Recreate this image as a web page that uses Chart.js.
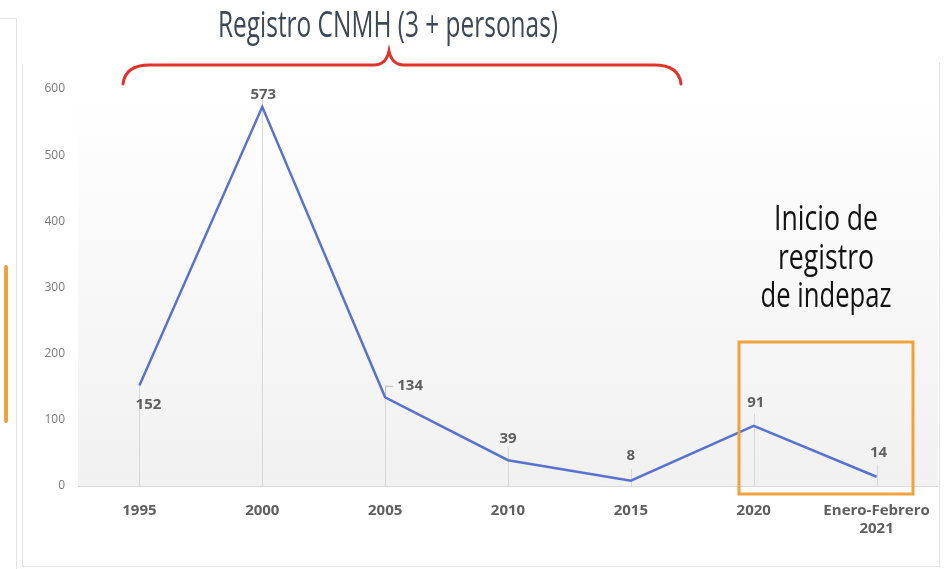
<!DOCTYPE html>
<html>
<head>
<meta charset="utf-8">
<script src="https://cdn.jsdelivr.net/npm/chart.js@4.4.1/dist/chart.umd.min.js"></script>
<style>
  html, body { margin: 0; padding: 0; background: #fff; }
  #wrap { width: 949px; height: 569px; position: relative; }
</style>
</head>
<body>
<div id="wrap"><canvas id="chart"></canvas></div>
<script>
const categories = ['1995', '2000', '2005', '2010', '2015', '2020', ['Enero-Febrero', '2021']];
const values = [152, 573, 134, 39, 8, 91, 14];
const yTicks = [0, 100, 200, 300, 400, 500, 600];

// where each value label sits relative to its point (dx, dy)
const labelOffsets = [[9, 19], [1, -12], [25, -12], [0, -21], [0, -25], [2, -23], [2, -24]];

// draw text squeezed horizontally to a given width (stands in for a condensed face)
function narrowText(ctx, text, cx, baseline, width) {
  const w = ctx.measureText(text).width;
  ctx.save();
  ctx.translate(cx, baseline);
  ctx.scale(width / w, 1);
  ctx.textAlign = 'center';
  ctx.textBaseline = 'alphabetic';
  ctx.fillText(text, 0, 0);
  ctx.restore();
}

const decorations = {
  id: 'decorations',
  beforeDraw(chart) {
    const { ctx, chartArea: a } = chart;
    ctx.save();
    // outer frame
    ctx.strokeStyle = '#e3e3e3';
    ctx.lineWidth = 1;
    ctx.beginPath();
    ctx.moveTo(22.5, 65); ctx.lineTo(22.5, 566.5); ctx.lineTo(939.5, 566.5); ctx.lineTo(939.5, 62);
    ctx.moveTo(0, 18.5); ctx.lineTo(16.5, 18.5); ctx.lineTo(16.5, 569);
    ctx.stroke();
    // plot background
    const g = ctx.createLinearGradient(0, a.top, 0, a.bottom);
    g.addColorStop(0, '#ffffff');
    g.addColorStop(1, '#f1f1f1');
    ctx.fillStyle = g;
    ctx.fillRect(a.left, a.top, a.right - a.left, a.bottom - a.top);
    // drop lines
    const meta = chart.getDatasetMeta(0);
    ctx.strokeStyle = '#d8d8d8';
    meta.data.forEach((p, i) => {
      const off = labelOffsets[i];
      const top = off[1] < 0 ? p.y - 12 : p.y;
      ctx.beginPath();
      ctx.moveTo(Math.round(p.x) + 0.5, top);
      ctx.lineTo(Math.round(p.x) + 0.5, a.bottom);
      ctx.stroke();
    });
    // axis line
    ctx.strokeStyle = '#d9d9d9';
    ctx.beginPath();
    ctx.moveTo(a.left, a.bottom + 0.5);
    ctx.lineTo(a.right, a.bottom + 0.5);
    ctx.stroke();
    // left orange bar
    ctx.strokeStyle = '#f0a23c';
    ctx.lineWidth = 4;
    ctx.lineCap = 'round';
    ctx.beginPath();
    ctx.moveTo(6, 267); ctx.lineTo(6, 421);
    ctx.stroke();
    ctx.restore();
  },
  afterDatasetsDraw(chart) {
    const { ctx } = chart;
    const meta = chart.getDatasetMeta(0);
    ctx.save();
    // value labels
    ctx.font = 'bold 15px "Open Sans", "DejaVu Sans", sans-serif';
    ctx.fillStyle = '#5f5f5f';
    ctx.textAlign = 'center';
    ctx.textBaseline = 'middle';
    meta.data.forEach((p, i) => {
      const [dx, dy] = labelOffsets[i];
      ctx.fillText(String(values[i]), p.x + dx, p.y + dy);
    });
    // small leader for 134
    const p2 = meta.data[2];
    ctx.strokeStyle = '#bdbdbd';
    ctx.lineWidth = 1;
    ctx.beginPath();
    ctx.moveTo(p2.x + 0.5, p2.y - 3);
    ctx.lineTo(p2.x + 0.5, p2.y - 11);
    ctx.lineTo(p2.x + 8, p2.y - 11);
    ctx.stroke();

    // title
    ctx.fillStyle = '#3d4756';
    ctx.font = '36px "Open Sans", "DejaVu Sans", sans-serif';
    narrowText(ctx, 'Registro CNMH (3 + personas)', 388, 37, 340);

    // red brace
    ctx.strokeStyle = '#e0332b';
    ctx.lineWidth = 3;
    ctx.lineCap = 'round';
    ctx.beginPath();
    ctx.moveTo(123, 84);
    ctx.quadraticCurveTo(125, 65, 150, 65);
    ctx.lineTo(374, 65);
    ctx.quadraticCurveTo(386, 65, 389, 51);
    ctx.quadraticCurveTo(392, 65, 404, 65);
    ctx.lineTo(654, 65);
    ctx.quadraticCurveTo(679, 65, 681, 84);
    ctx.stroke();

    // orange box
    ctx.strokeStyle = '#f0a23c';
    ctx.lineWidth = 3;
    ctx.lineCap = 'butt';
    ctx.strokeRect(739, 342, 174, 152);

    // annotation text
    ctx.fillStyle = '#111111';
    ctx.font = '500 34px "Open Sans", "DejaVu Sans", sans-serif';
    narrowText(ctx, 'Inicio de', 826, 230, 104);
    narrowText(ctx, 'registro', 826, 269, 96);
    narrowText(ctx, 'de indepaz', 826, 307, 131);
    ctx.restore();
  }
};

new Chart(document.getElementById('chart'), {
  type: 'line',
  data: {
    labels: categories,
    datasets: [{
      data: values,
      borderColor: '#5a72cf',
      borderWidth: 2.5,
      pointRadius: 0,
      tension: 0,
      fill: false
    }]
  },
  options: {
    responsive: true,
    maintainAspectRatio: false,
    animation: false,
    layout: { padding: { top: 89, right: 11, bottom: 0, left: 0 } },
    plugins: { legend: { display: false }, tooltip: { enabled: false } },
    scales: {
      x: {
        offset: true,
        grid: { display: false, drawTicks: false },
        border: { display: false },
        ticks: {
          color: '#5f5f5f',
          font: { family: '"Open Sans", "DejaVu Sans", sans-serif', size: 15, weight: 'bold' },
          padding: 16,
          maxRotation: 0,
          autoSkip: false
        },
        afterFit(scale) { scale.height = 83; }
      },
      y: {
        min: 0,
        max: 600,
        afterBuildTicks(scale) { scale.ticks = yTicks.map(v => ({ value: v })); },
        grid: { display: false, drawTicks: false },
        border: { display: false },
        ticks: {
          color: '#7a7a7a',
          font: { family: '"Open Sans", "DejaVu Sans", sans-serif', size: 12 },
          padding: 13
        },
        afterFit(scale) { scale.width = 78; }
      }
    }
  },
  plugins: [decorations]
});
</script>
</body>
</html>
